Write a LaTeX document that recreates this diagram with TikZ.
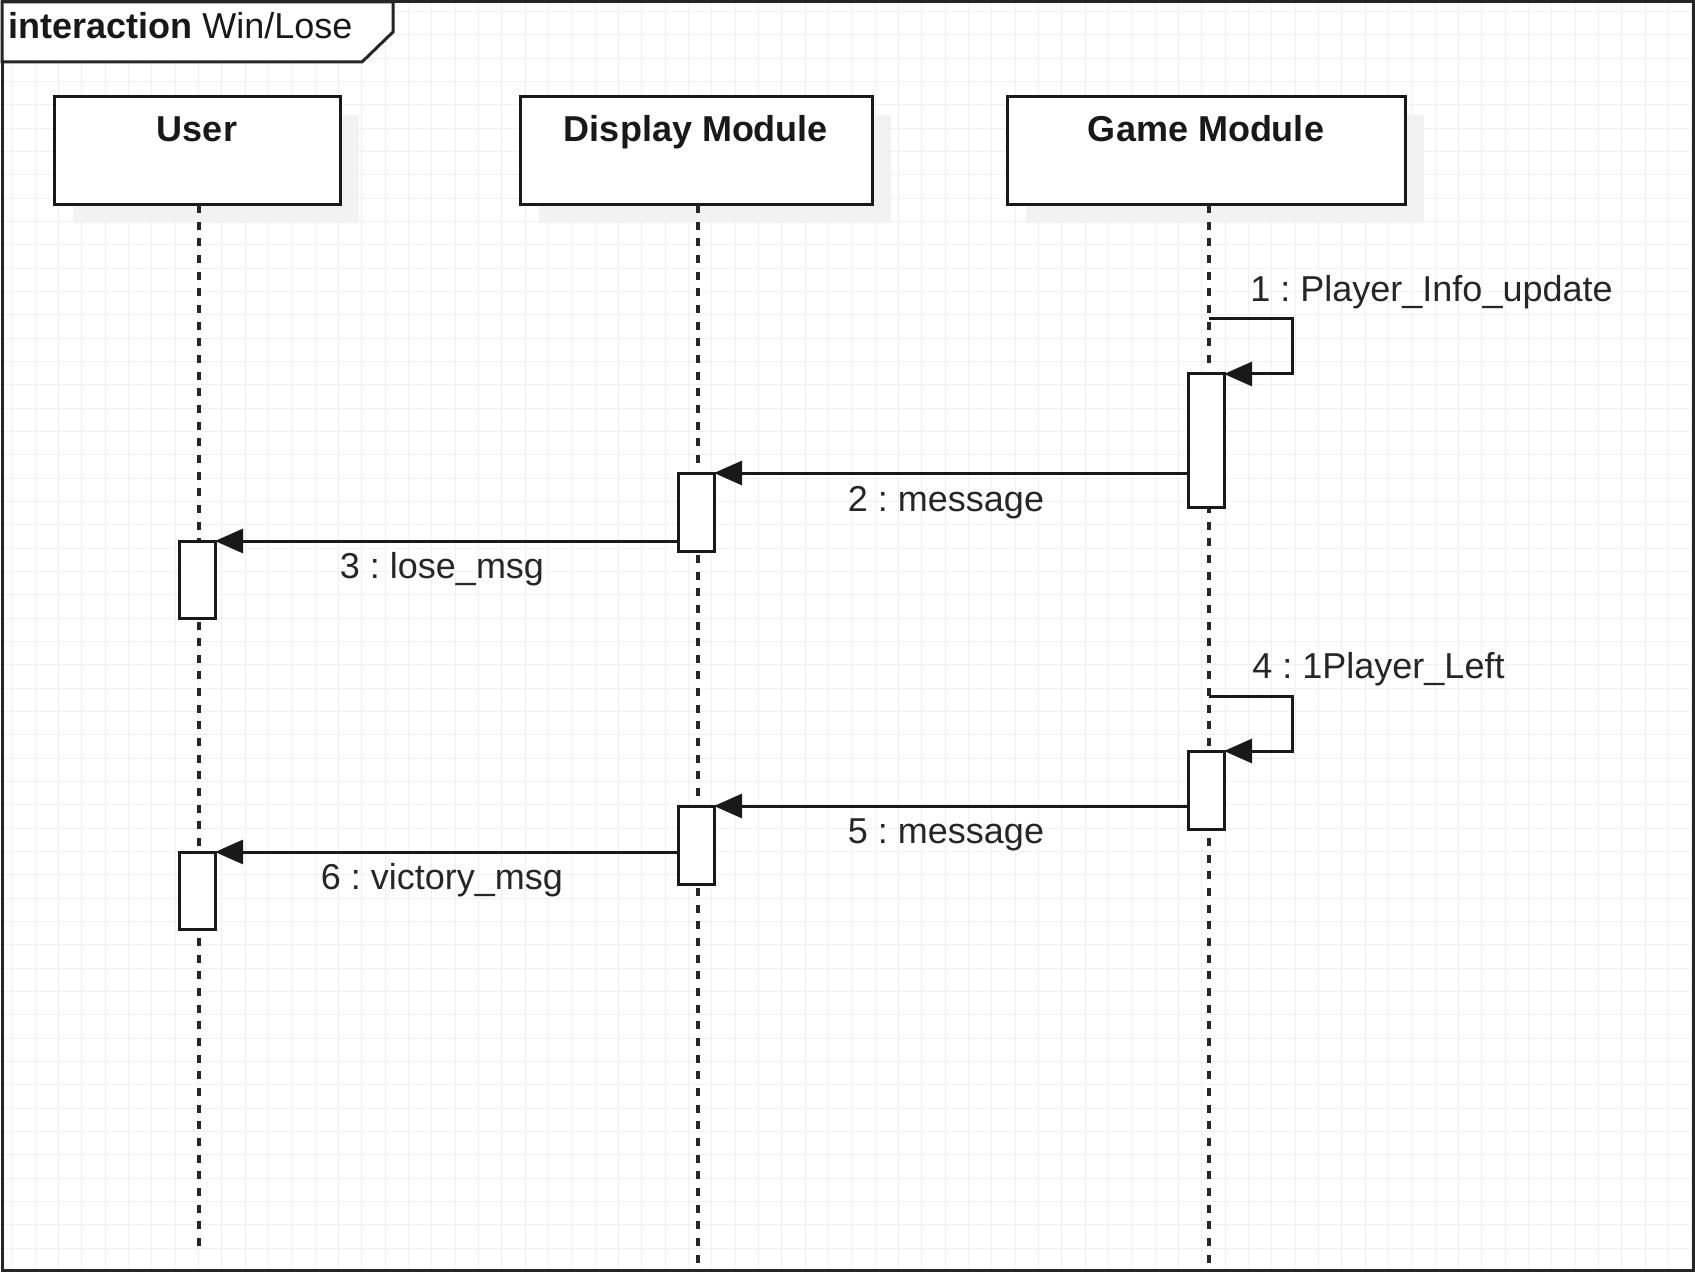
\documentclass[tikz,border=0pt]{standalone}
\usepackage{fontspec}
\setmainfont{Liberation Sans}
\usetikzlibrary{arrows.meta}
\frenchspacing
\begin{document}
\begin{tikzpicture}[x=0.5pt,y=-0.5pt,
  every node/.style={font=\fontsize{18}{21}\selectfont},
  grid line/.style={draw=black!6, line width=0.5pt},
  frame/.style={draw=black!85, line width=1.5pt},
  headbox/.style={draw=black!90, line width=1.5pt, fill=white, rectangle, minimum height=54pt, inner sep=0pt, outer sep=0pt, anchor=north west},
  shadowbox/.style={fill=black!5, draw=none},
  headtext/.style={font=\fontsize{18}{21}\selectfont\bfseries, anchor=base, inner sep=0pt, text=black!90},
  lifeline/.style={draw=black!85, line width=1.6pt, dash pattern=on 4pt off 4.33pt},
  actbox/.style={draw=black!90, line width=1.5pt, fill=white, rectangle, minimum width=18pt, minimum height=39pt, inner sep=0pt, outer sep=0pt, anchor=north west},
  msg/.style={draw=black!90, line width=1.5pt, -{Triangle[length=14pt,width=12pt]}},
  msgtext/.style={anchor=base, inner sep=0pt, text=black!85},
]
\useasboundingbox (0,0) rectangle (1695,1272);
% grid
\foreach \i in {0,...,72} { \draw[grid line] ({11.667+23.333*\i},0) -- ++(0,1272); }
\foreach \j in {0,...,54} { \draw[grid line] (0,{11.667+23.333*\j}) -- ++(1695,0); }
% frame
\draw[frame] (2,2) rectangle (1693,1270);
\draw[frame, fill=white] (2,2) -- (393,2) -- (393,32) -- (362,62) -- (2,62) -- cycle;
\node[anchor=base west, inner sep=0pt, text=black!90] (title) at (8,39) {\textbf{interaction} Win/Lose};
% shadows
\fill[shadowbox] (73,115) rectangle (359,223);
\fill[shadowbox] (539,115) rectangle (891,223);
\fill[shadowbox] (1026,115) rectangle (1424,223);
% heads
\node[headbox, minimum width=143pt] (user) at (54,97) {};
\node[headbox, minimum width=176pt] (disp) at (520,97) {};
\node[headbox, minimum width=199pt] (game) at (1007,97) {};
\node[headtext] (userlbl) at (197,142) {User};
\node[headtext] (displbl) at (696,142) {Display Module};
\node[headtext] (gamelbl) at (1206,142) {Game Module};
% lifelines
\coordinate (uend) at (199,1249);
\coordinate (dend) at (698,1265);
\coordinate (gend) at (1209,1265);
\draw[lifeline] (user.south -| uend) -- (uend);
\draw[lifeline] (disp.south -| dend) -- (dend);
\draw[lifeline] (game.south -| gend) -- (gend);
% activations
\node[actbox, minimum height=66.5pt] (g1) at (1188,374) {};
\node[actbox] (d1) at (678,473) {};
\node[actbox, minimum height=38.5pt] (u1) at (179,541) {};
\node[actbox] (g2) at (1188,751) {};
\node[actbox] (d2) at (678,806) {};
\node[actbox, minimum height=38.5pt] (u2) at (179,852) {};
% messages
\coordinate (s1) at (1209,319);
\coordinate (s4) at (1209,696);
\draw[msg] (s1) -- ++(83,0) |- (g1.north east);
\draw[msg] (g1.north west |- d1.north) -- (d1.north east);
\draw[msg] (d1.west |- u1.north) -- (u1.north east);
\draw[msg] (s4) -- ++(83,0) |- (g2.north east);
\draw[msg] (g2.west |- d2.north) -- (d2.north east);
\draw[msg] (d2.west |- u2.north) -- (u2.north east);
% labels
\node[msgtext, anchor=base west] (m1) at (1250,302) {1 : Player\_Info\_update};
\node[msgtext] (m2) at (946,511) {2 : message};
\node[msgtext] (m3) at (442,578) {3 : lose\_msg};
\node[msgtext, anchor=base west] (m4) at (1252,678) {4 : 1Player\_Left};
\node[msgtext] (m5) at (946,843) {5 : message};
\node[msgtext] (m6) at (442,889) {6 : victory\_msg};
\end{tikzpicture}
\end{document}
